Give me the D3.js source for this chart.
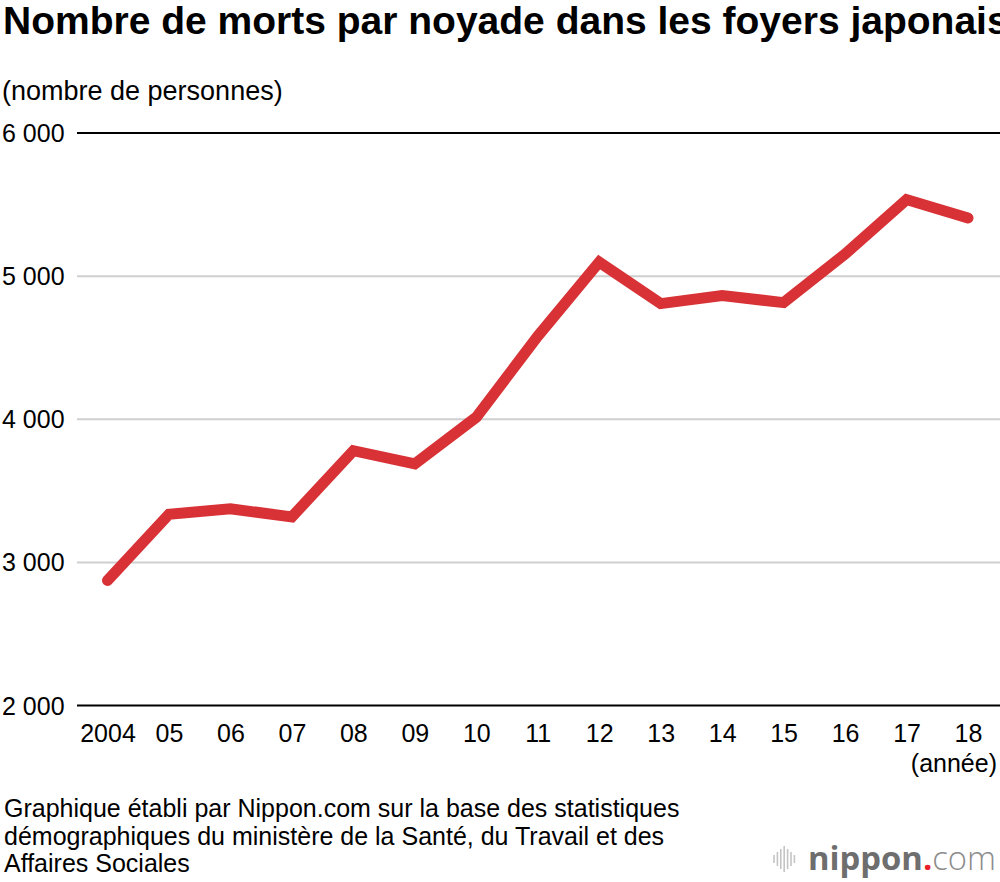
<!DOCTYPE html>
<html>
<head>
<meta charset="utf-8">
<script src="https://cdn.jsdelivr.net/npm/d3@7"></script>
<style>
  html, body { margin: 0; padding: 0; background: #fff; overflow: hidden; }
  text { font-family: "Liberation Sans", Arial, Helvetica, sans-serif; fill: #000; }
</style>
</head>
<body>
<script>
// années et nombre de morts
const years = ['2004', '05', '06', '07', '08', '09', '10', '11', '12', '13', '14', '15', '16', '17', '18'];
const deaths = [2874, 3336, 3374, 3318, 3780, 3689, 4014, 4580, 5098, 4808, 4864, 4815, 5154, 5535, 5406];
const yTicks = [2000, 3000, 4000, 5000, 6000];
const sourceLines = [
  'Graphique établi par Nippon.com sur la base des statistiques',
  'démographiques du ministère de la Santé, du Travail et des',
  'Affaires Sociales'
];

const width = 1000;
const height = 882;

const svg = d3.select('body').append('svg')
  .attr('width', width)
  .attr('height', height);

const x = d3.scalePoint().domain(years).range([107.5, 968]);
const y = d3.scaleLinear().domain([2000, 6000]).range([705.5, 133]);

const fmt = d3.formatLocale({ decimal: ',', thousands: ' ', grouping: [3], currency: ['', '€'] }).format(',d');

// titre (coupé au bord droit comme l'original)
svg.append('text')
  .attr('x', 3)
  .attr('y', 34)
  .style('font-size', '39px')
  .style('font-weight', 'bold')
  .text('Nombre de morts par noyade dans les foyers japonais');

svg.append('text')
  .attr('x', 2)
  .attr('y', 100)
  .style('font-size', '27px')
  .text('(nombre de personnes)');

// lignes de grille
const grid = svg.append('g');
grid.selectAll('line')
  .data(yTicks)
  .join('line')
  .attr('x1', 77)
  .attr('x2', width)
  .attr('y1', d => y(d))
  .attr('y2', d => y(d))
  .attr('stroke', d => (d === 2000 || d === 6000) ? '#000' : '#cfcfcf')
  .attr('stroke-width', 2);

grid.selectAll('text')
  .data(yTicks)
  .join('text')
  .attr('x', 2)
  .attr('y', d => y(d))
  .attr('dy', '0.36em')
  .style('font-size', '25px')
  .text(d => fmt(d));

// axe des années
const xAxis = svg.append('g')
  .attr('transform', `translate(0, ${y(2000)})`)
  .call(d3.axisBottom(x).tickSize(0).tickPadding(19));
xAxis.select('.domain').remove();
xAxis.selectAll('text')
  .attr('dy', '0.71em')
  .style('font-size', '25px')
  .style('font-family', '"Liberation Sans", Arial, sans-serif')
  .attr('fill', '#000');

svg.append('text')
  .attr('x', 997)
  .attr('y', 772)
  .attr('text-anchor', 'end')
  .style('font-size', '25px')
  .text('(année)');

// courbe
const line = d3.line()
  .x((d, i) => x(years[i]))
  .y(d => y(d));

svg.append('path')
  .datum(deaths)
  .attr('d', line)
  .attr('fill', 'none')
  .attr('stroke', '#d83236')
  .attr('stroke-width', 11)
  .attr('stroke-linecap', 'round')
  .attr('stroke-linejoin', 'miter');

// source
svg.append('g').selectAll('text')
  .data(sourceLines)
  .join('text')
  .attr('x', 4)
  .attr('y', (d, i) => 817 + i * 27.5)
  .style('font-size', '25px')
  .text(d => d);

// logo nippon.com
const logo = svg.append('g');
const bars = [8, 14, 20, 26, 20, 14, 8];
logo.selectAll('line')
  .data(bars)
  .join('line')
  .attr('x1', (d, i) => 774 + i * 3.4)
  .attr('x2', (d, i) => 774 + i * 3.4)
  .attr('y1', d => 859 - d / 2)
  .attr('y2', d => 859 + d / 2)
  .attr('stroke', '#c4c4c4')
  .attr('stroke-width', 1.6);

const logoText = logo.append('text')
  .attr('x', 996)
  .attr('y', 870)
  .attr('text-anchor', 'end')
  .attr('textLength', 188)
  .attr('lengthAdjust', 'spacingAndGlyphs')
  .style('font-family', '"Open Sans", "Noto Sans", sans-serif')
  .style('font-size', '33px');
logoText.append('tspan').text('nippon')
  .style('font-weight', 700)
  .attr('fill', '#6e6e6e');
logoText.append('tspan').text('.')
  .style('font-weight', 700)
  .attr('fill', '#e8202a');
logoText.append('tspan').text('com')
  .style('font-weight', 300)
  .attr('fill', '#8c8c8c');
</script>
</body>
</html>
